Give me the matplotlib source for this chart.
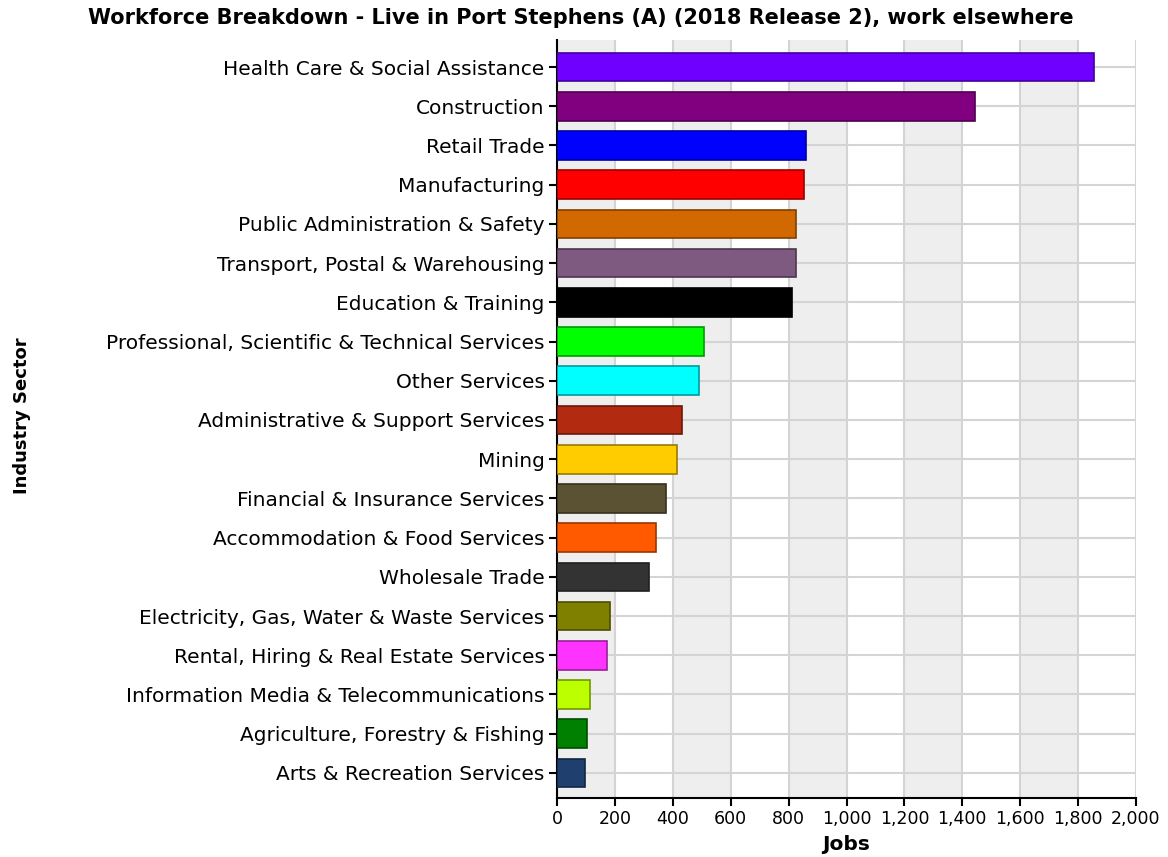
import matplotlib
matplotlib.use("Agg")
import matplotlib.pyplot as plt
from matplotlib.colors import to_rgb
from matplotlib.ticker import FuncFormatter

title = "Workforce Breakdown - Live in Port Stephens (A) (2018 Release 2), work elsewhere"
categories = [
    "Health Care & Social Assistance",
    "Construction",
    "Retail Trade",
    "Manufacturing",
    "Public Administration & Safety",
    "Transport, Postal & Warehousing",
    "Education & Training",
    "Professional, Scientific & Technical Services",
    "Other Services",
    "Administrative & Support Services",
    "Mining",
    "Financial & Insurance Services",
    "Accommodation & Food Services",
    "Wholesale Trade",
    "Electricity, Gas, Water & Waste Services",
    "Rental, Hiring & Real Estate Services",
    "Information Media & Telecommunications",
    "Agriculture, Forestry & Fishing",
    "Arts & Recreation Services",
]
jobs = [1856, 1444, 859, 854, 827, 825, 812, 509, 491, 431, 415, 376, 343, 318,
        182, 174, 113, 104, 96]
colors = ["#6F00FF", "#800080", "#0000FF", "#FF0000", "#D26900", "#7F5A80",
          "#000000", "#00FF00", "#00FFFF", "#B22A10", "#FFCC00", "#5A5232",
          "#FF5A00", "#333333", "#808000", "#FF33FF", "#BBFF00", "#008000",
          "#1F3F6F"]
xticks = list(range(0, 2001, 200))

FONT = "DejaVu Sans"
plt.rcParams['font.family'] = [FONT]

fig = plt.figure(figsize=(11.68, 8.57), dpi=100)
ax = fig.add_axes([557/1168, 1-798/857, (1136-557)/1168, (798-40)/857])

ypos = list(range(len(categories)))
edges = [tuple(c*0.6 for c in to_rgb(col)) for col in colors]
ax.barh(ypos, jobs, height=0.73, color=colors, edgecolor=edges, linewidth=1.2, zorder=3)

# alternating background bands
for i in range(len(xticks)-1):
    if i % 2 == 0:
        ax.axvspan(xticks[i], xticks[i+1], color="#EEEEEE", zorder=0, lw=0)

ax.set_xlim(0, 2000)
ax.set_ylim(len(categories)-1+0.64, -0.69)
ax.set_xticks(xticks)
ax.xaxis.set_major_formatter(FuncFormatter(lambda v, p: f"{int(v):,}"))
ax.set_yticks(ypos)
ax.set_yticklabels(categories)
ax.grid(True, color="#D4D4D4", linewidth=1.5, zorder=1)
ax.set_axisbelow(True)

for s in ["top", "right"]:
    ax.spines[s].set_visible(False)
ax.spines["left"].set_linewidth(1.5)
ax.spines["bottom"].set_linewidth(1.5)
ax.tick_params(axis="y", length=6, width=1.5, labelsize=14.5, pad=3)
ax.tick_params(axis="x", length=6, width=1.5, labelsize=12.5, pad=3)

ax.set_xlabel("Jobs", fontsize=14.5, fontweight="bold", labelpad=5)
fig.text(22/1168, 1-416/857, "Industry Sector", rotation=90, fontsize=13,
         fontweight="bold", ha="center", va="center")
fig.text(0.497, 1-18/857, title, fontsize=15, fontweight="bold", ha="center", va="center")

fig.savefig("out.png", dpi=100)
